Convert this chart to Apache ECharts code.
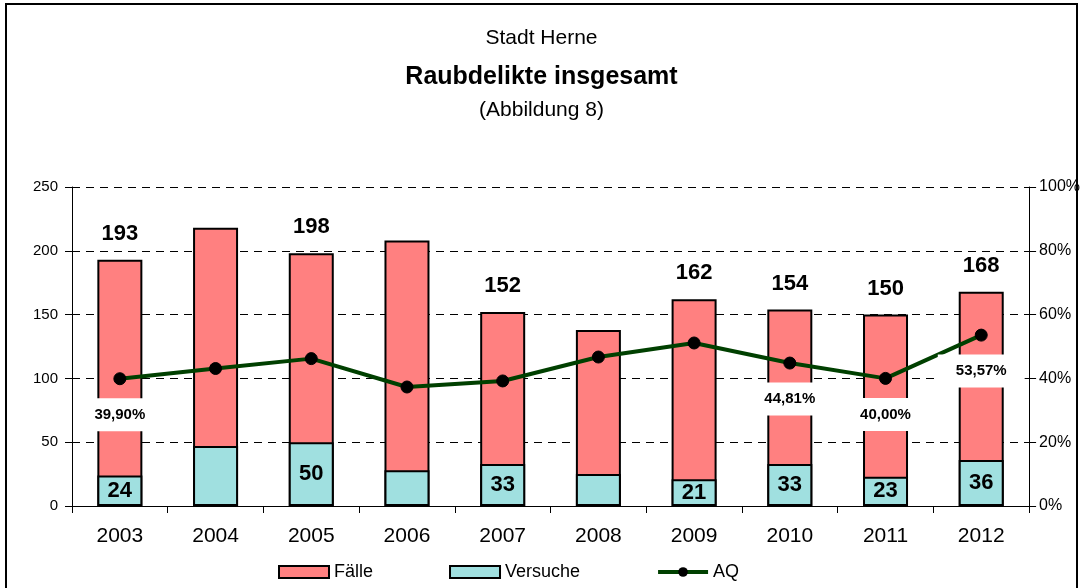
<!DOCTYPE html>
<html>
<head>
<meta charset="utf-8">
<script src="https://cdn.jsdelivr.net/npm/echarts@6/dist/echarts.min.js"></script>
<style>
html, body { margin: 0; padding: 0; background: #fff; }
#chart { width: 1083px; height: 588px; }
</style>
</head>
<body>
<div id="chart"></div>
<script>
// Daten
var jahre = ['2003', '2004', '2005', '2006', '2007', '2008', '2009', '2010', '2011', '2012'];
var faelle = [193, 218, 198, 208, 152, 138, 162, 154, 150, 168];
var versuche = [24, 47, 50, 28, 33, 25, 21, 33, 23, 36];
var aq = [0.399, 0.431, 0.462, 0.373, 0.392, 0.467, 0.511, 0.4481, 0.40, 0.5357];
// welche Werte beschriftet sind
var faelleLabel = [1, 0, 1, 0, 1, 0, 1, 1, 1, 1];
var versucheLabel = [1, 0, 1, 0, 1, 0, 1, 1, 1, 1];
var aqLabel = [1, 0, 0, 0, 0, 0, 0, 1, 1, 1];
var linksTicks = ['0', '50', '100', '150', '200', '250'];
var rechtsTicks = ['0%', '20%', '40%', '60%', '80%', '100%'];

var font = 'Liberation Sans, Arial, sans-serif';

function mitLabel(werte, flags) {
    return werte.map(function (v, i) {
        return { value: v, label: { show: !!flags[i] } };
    });
}

var myChart = echarts.init(document.getElementById('chart'));

var option = {
    backgroundColor: '#fff',
    textStyle: { fontFamily: font, color: '#000' },
    title: [
        { text: 'Stadt Herne', left: 'center', top: 23, textStyle: { fontSize: 21, fontWeight: 'normal', color: '#000', fontFamily: font } },
        { text: 'Raubdelikte insgesamt', left: 'center', top: 60, textStyle: { fontSize: 25, fontWeight: 'bold', color: '#000', fontFamily: font } },
        { text: '(Abbildung 8)', left: 'center', top: 95, textStyle: { fontSize: 21, fontWeight: 'normal', color: '#000', fontFamily: font } }
    ],
    graphic: [{
        type: 'rect',
        shape: { x: 6, y: 4, width: 1071, height: 620 },
        style: { fill: 'none', stroke: '#000', lineWidth: 2 },
        silent: true
    }],
    legend: {
        left: 273,
        top: 558,
        itemWidth: 50,
        itemHeight: 12,
        itemGap: 76,
        textStyle: { fontSize: 18, color: '#000', fontFamily: font },
        data: [
            { name: 'Fälle', icon: 'rect' },
            { name: 'Versuche', icon: 'rect' },
            { name: 'AQ', lineStyle: { width: 4, color: '#004000' } }
        ]
    },
    grid: { left: 72, right: 53, top: 187, bottom: 82 },
    xAxis: {
        type: 'category',
        data: jahre,
        axisLine: { lineStyle: { color: '#000', width: 1 } },
        axisTick: { show: true, length: 7, inside: false, lineStyle: { color: '#000' } },
        axisLabel: { fontSize: 21, color: '#000', margin: 20, fontFamily: font }
    },
    yAxis: [{
        type: 'value',
        min: 0, max: 250, interval: 50,
        axisLine: { show: true, lineStyle: { color: '#000' } },
        axisTick: { show: true, length: 7, lineStyle: { color: '#000' } },
        axisLabel: {
            fontSize: 15, color: '#000', margin: 14, fontFamily: font,
            formatter: function (v) { return linksTicks[v / 50]; }
        },
        splitLine: { show: true, lineStyle: { color: '#000', type: [8, 6], width: 1 } }
    }, {
        type: 'value',
        min: 0, max: 1, interval: 0.2,
        axisLine: { show: true, lineStyle: { color: '#000' } },
        axisTick: { show: true, length: 7, lineStyle: { color: '#000' } },
        axisLabel: {
            fontSize: 16, color: '#000', margin: 10, fontFamily: font,
            formatter: function (v) { return rechtsTicks[Math.round(v * 5)]; }
        },
        splitLine: { show: false }
    }],
    series: [{
        name: 'Fälle',
        type: 'bar',
        barWidth: 45,
        itemStyle: { color: '#FF8080', borderColor: '#000', borderWidth: 2 },
        label: {
            position: 'top', distance: 15,
            fontSize: 22, fontWeight: 'bold', color: '#000', fontFamily: font
        },
        data: mitLabel(faelle, faelleLabel),
        z: 2
    }, {
        name: 'Versuche',
        type: 'bar',
        barWidth: 45,
        barGap: '-100%',
        itemStyle: { color: '#A0E0E0', borderColor: '#000', borderWidth: 2 },
        label: {
            position: 'inside',
            fontSize: 22, fontWeight: 'bold', color: '#000', fontFamily: font
        },
        data: mitLabel(versuche, versucheLabel),
        z: 3
    }, {
        name: 'AQ',
        type: 'line',
        yAxisIndex: 1,
        symbol: 'circle',
        symbolSize: 12,
        lineStyle: { color: '#004000', width: 4 },
        itemStyle: { color: '#000', borderColor: '#000' },
        label: {
            position: 'bottom', distance: 13,
            fontSize: 15, fontWeight: 'bold', color: '#000', fontFamily: font,
            backgroundColor: '#fff', padding: [9, 18],
            formatter: function (p) { return (p.value * 100).toFixed(2).replace('.', ',') + '%'; }
        },
        data: mitLabel(aq, aqLabel),
        z: 5
    }]
};
myChart.setOption(option);
</script>
</body>
</html>
